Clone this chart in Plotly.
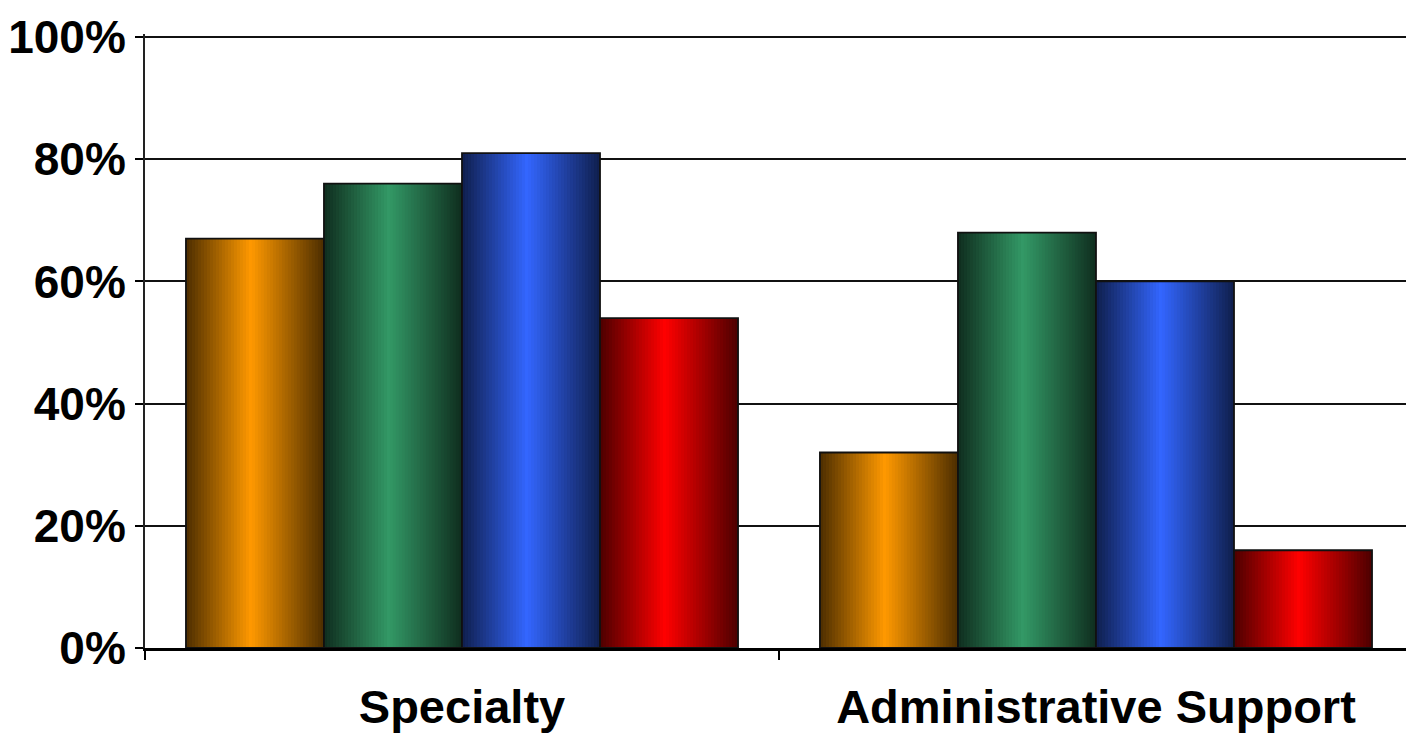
import plotly.graph_objects as go

categories = ["Specialty", "Administrative Support"]
series_names = ["Series A", "Series B", "Series C", "Series D"]
series_values = [
    [67, 32],
    [76, 68],
    [81, 60],
    [54, 16],
]
peak_colors = [(255, 153, 0), (51, 153, 102), (51, 102, 255), (255, 0, 0)]
y_ticks = [0, 20, 40, 60, 80, 100]
y_tick_text = ["0%", "20%", "40%", "60%", "80%", "100%"]

BAR_W = 0.2177
N_SLICES = 46
PEAK_POS = 0.47
EDGE = 0.3

def shade(rgb, t):
    if t <= PEAK_POS:
        k = t / PEAK_POS
    else:
        k = (1 - t) / (1 - PEAK_POS)
    f = EDGE + (1 - EDGE) * k
    return "rgb(%d,%d,%d)" % tuple(int(round(c * f)) for c in rgb)

fig = go.Figure()
n_series = len(series_values)
slice_w = BAR_W / N_SLICES
for si, (name, vals, rgb) in enumerate(zip(series_names, series_values, peak_colors)):
    bar_start = (si - n_series / 2) * BAR_W
    for k in range(N_SLICES):
        t = (k + 0.5) / N_SLICES
        w = slice_w * (2.0 if k < N_SLICES - 1 else 1.0)
        fig.add_trace(go.Bar(
            x=categories, y=vals, name=name, showlegend=False,
            offset=bar_start + k * slice_w, width=w,
            marker=dict(color=shade(rgb, t), line=dict(width=0)),
            hoverinfo="skip",
        ))
    fig.add_trace(go.Bar(
        x=categories, y=vals, name=name, showlegend=False,
        offset=bar_start, width=BAR_W,
        marker=dict(color="rgba(0,0,0,0)", line=dict(color="#111", width=1.8)),
    ))

FONT = "Liberation Sans, Arial, sans-serif"
fig.update_layout(
    width=1406, height=738,
    margin=dict(l=145, r=0, t=34, b=90),
    barmode="overlay",
    plot_bgcolor="white", paper_bgcolor="white",
    showlegend=False,
    font=dict(family=FONT, color="black"),
)
fig.update_xaxes(
    type="category", range=[-0.5, 1.489], automargin=False, tickangle=0,
    showgrid=False, showline=True, linecolor="black", linewidth=2.5,
    ticks="outside", tickson="boundaries", ticklen=9, tickwidth=1.5, tickcolor="black",
    ticklabelstandoff=16,
    tickfont=dict(family=FONT, size=47, weight="bold", color="black"),
)
fig.update_yaxes(
    range=[0, 100.5], tickvals=y_ticks, ticktext=y_tick_text, automargin=False,
    showgrid=True, gridcolor="#111", gridwidth=2,
    showline=True, linecolor="#222", linewidth=2,
    ticks="outside", ticklen=8, tickwidth=1.5, tickcolor="black",
    zeroline=False,
    tickfont=dict(family=FONT, size=46, weight="bold", color="black"),
)
fig.write_html("out.html")
